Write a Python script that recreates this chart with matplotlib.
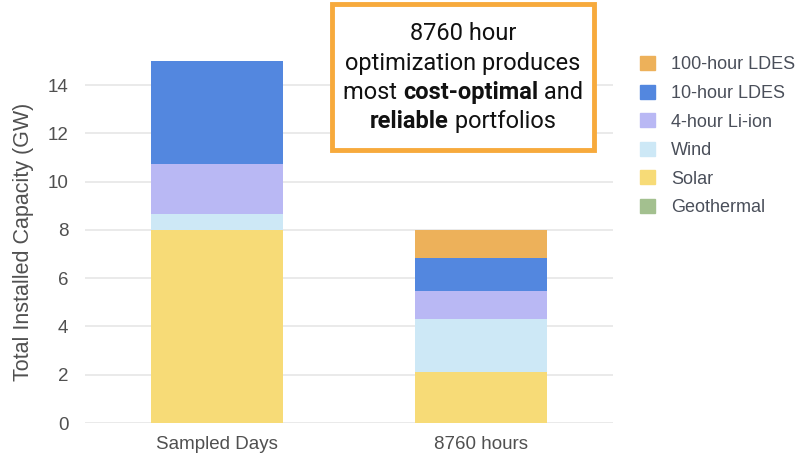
import matplotlib
matplotlib.use("Agg")
from matplotlib import pyplot as plt
from matplotlib.patches import Patch, FancyBboxPatch
import numpy as np


categories = ["Sampled Days", "8760 hours"]
series_names = ["Geothermal", "Solar", "Wind", "4-hour Li-ion", "10-hour LDES", "100-hour LDES"]
geothermal = [0.0, 0.0]
solar = [8.0, 2.1]
wind = [0.65, 2.23]
li_ion_4h = [2.1, 1.14]
ldes_10h = [4.25, 1.35]
ldes_100h = [0.0, 1.18]
y_ticks = [0, 2, 4, 6, 8, 10, 12, 14]

COLORS = ["#a3c08f", "#f7db77", "#cde8f6", "#b9b8f4", "#5387df", "#edb15a"]
TEXT_GREY = "#505050"

DPI = 100
fig = plt.figure(figsize=(8.03, 4.61), dpi=DPI)
ax = fig.add_axes([85 / 803, 38 / 461, 528 / 803, 362 / 461])

x = np.arange(len(categories))
bottom = np.zeros(len(categories))
for name, vals, color in zip(series_names,
                             [geothermal, solar, wind, li_ion_4h, ldes_10h, ldes_100h],
                             COLORS):
    ax.bar(x, vals, width=0.5, bottom=bottom, color=color, label=name, zorder=2)
    bottom += np.array(vals)

ax.set_xlim(-0.5, 1.5)
ax.set_ylim(0, 15)
ax.set_yticks(y_ticks)
ax.set_xticks(x)
ax.set_xticklabels(categories)
ax.tick_params(length=0, labelsize=13.5, labelcolor=TEXT_GREY, pad=9)
ax.tick_params(axis="y", pad=12)
for lbl in ax.get_xticklabels() + ax.get_yticklabels():
    lbl.set_family("Liberation Sans")
ax.grid(axis="y", color="#e6e6e6", linewidth=1.2, zorder=0)
for s in ax.spines.values():
    s.set_visible(False)
ax.set_ylabel("Total Installed Capacity (GW)", fontsize=15.5, color=TEXT_GREY,
              family="Liberation Sans", labelpad=10)

# legend, top entry is the top of the stack
handles = [Patch(color=c) for c in COLORS][::-1]
fig.legend(handles, series_names[::-1], loc="upper left",
           bbox_to_anchor=(624 / 803, 1 - 40 / 461), frameon=False,
           handlelength=0.8, handleheight=0.8, handletextpad=0.9,
           labelspacing=0.63, prop={"family": "Liberation Sans", "size": 13},
           labelcolor="#4a4f5a")

# callout box
box = FancyBboxPatch((332 / 803, 1 - 150 / 461), 262 / 803, 146 / 461,
                     boxstyle="square,pad=0", transform=fig.transFigure,
                     facecolor="white", edgecolor="#f7aa3c", linewidth=3.5,
                     zorder=5)
fig.add_artist(box)

lines = [
    [("8760 hour", "normal")],
    [("optimization produces", "normal")],
    [("most ", "normal"), ("cost-optimal", "bold"), (" and", "normal")],
    [("reliable", "bold"), (" portfolios", "normal")],
]
fig.canvas.draw()
renderer = fig.canvas.get_renderer()
cx = 463
for i, segs in enumerate(lines):
    y = 34 + i * 29.3
    texts = [fig.text(0, 0, s, fontsize=17, weight=w, family="Roboto",
                      color="#111111", va="center", ha="left", zorder=6)
             for s, w in segs]
    widths = [t.get_window_extent(renderer).width for t in texts]
    xpos = cx - sum(widths) / 2
    for t, w in zip(texts, widths):
        t.set_position((xpos / 803, 1 - y / 461))
        xpos += w

fig.savefig("out.png", dpi=DPI)
